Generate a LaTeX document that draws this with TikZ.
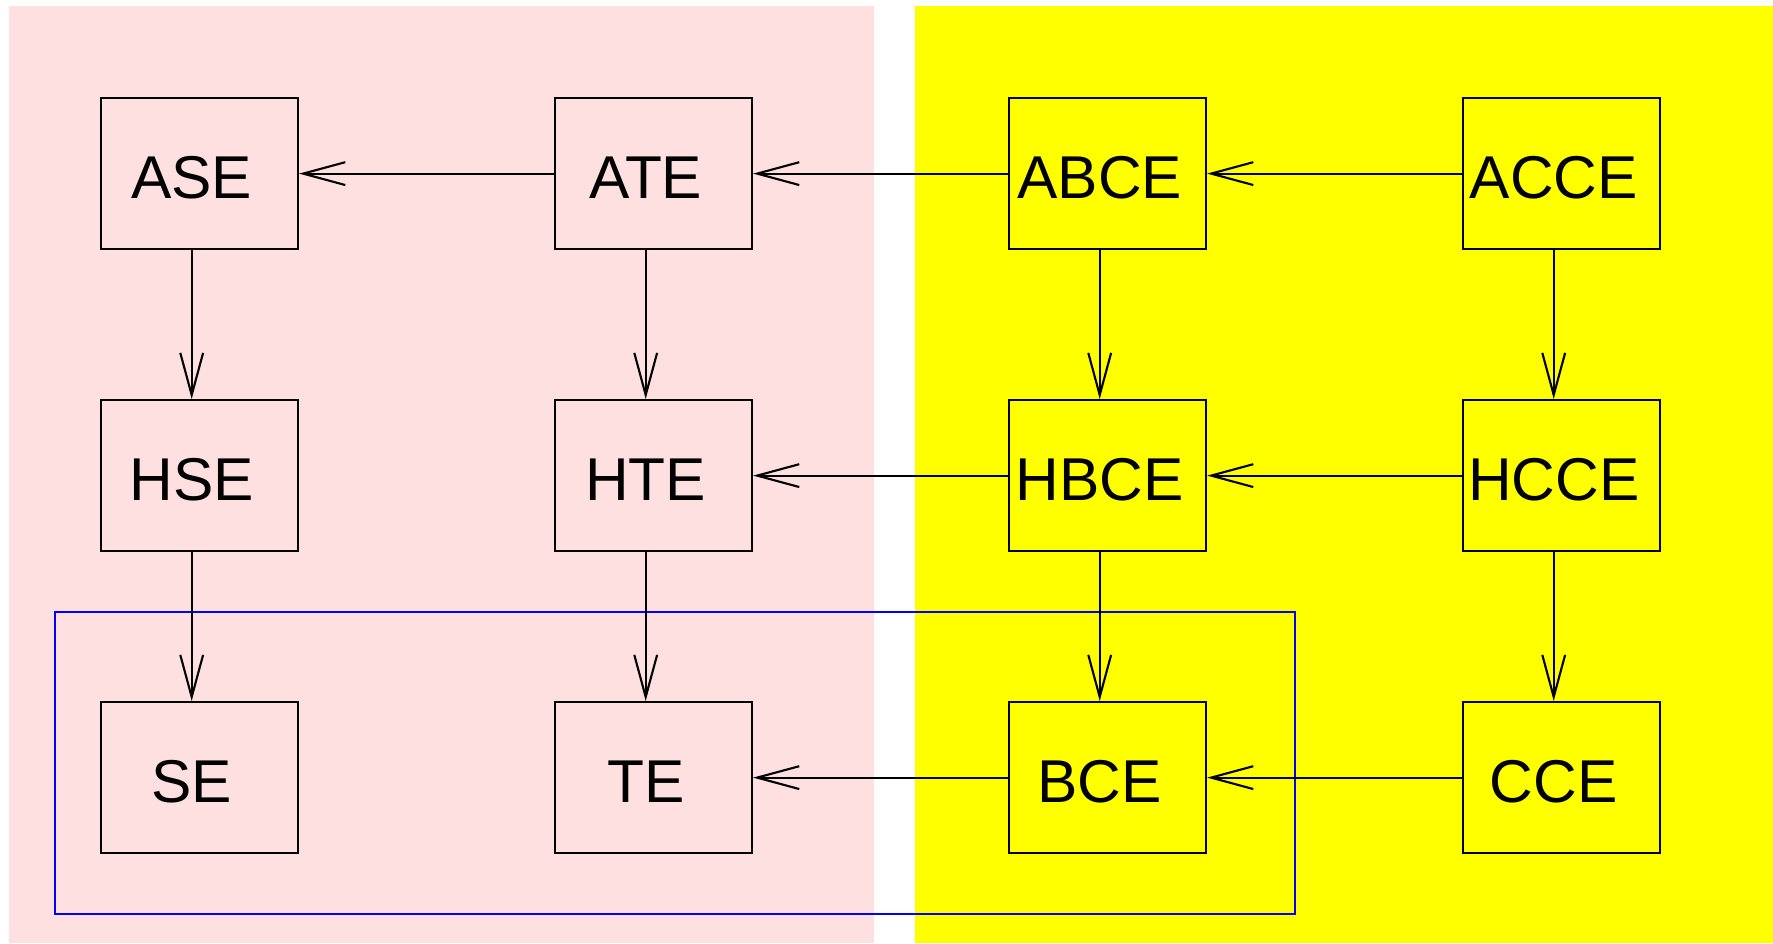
\documentclass[tikz,border=0pt]{standalone}
\usepackage{fontspec}
\setmainfont{Liberation Sans}
\usepackage{xcolor}
\usetikzlibrary{arrows.meta,positioning}
\definecolor{pinkbg}{RGB}{255,224,224}
\definecolor{yellowbg}{RGB}{255,255,0}
\definecolor{frameblue}{RGB}{0,0,255}

\begin{document}
\begin{tikzpicture}[node distance=3.02cm, auto,
    block/.style={rectangle, draw, line width=0.6pt, minimum width=1.97cm, minimum height=1.51cm, inner sep=0pt, text height=0.5cm, text depth=0pt, font=\fontsize{17.2}{21}\selectfont, execute at begin node={\hspace*{-0.156cm}}},
    arrow/.style={line width=0.6pt, -{Straight Barb[length=12pt, width=6.5pt, line width=0.6pt]}}]

    \useasboundingbox (0,0) rectangle (17.73,-9.43);
    \fill [pinkbg] (0.09,-0.057) rectangle (8.74,-9.43);
    \fill [yellowbg] (9.15,-0.057) rectangle (17.73,-9.43);
    \draw [frameblue, line width=0.6pt] (0.554,-6.117) rectangle (12.947,-9.136);

    \node [block] (ase) at (1.995,-1.736) {ASE};
    \node [block, right of=ase, node distance=4.54cm] (ate) {ATE};
    \node [block, right of=ate, node distance=4.54cm] (abce) {ABCE};
    \node [block, right of=abce, node distance=4.54cm] (acce) {ACCE};
    \node [block, below of=ase] (hse) {HSE};
    \node [block, below of=ate] (hte) {HTE};
    \node [block, below of=abce] (hbce) {HBCE};
    \node [block, below of=acce] (hcce) {HCCE};
    \node [block, below of=hse] (se) {SE};
    \node [block, below of=hte] (te) {TE};
    \node [block, below of=hbce] (bce) {BCE};
    \node [block, below of=hcce] (cce) {CCE};

    \draw [arrow] (ate) -- (ase);
    \draw [arrow] (abce) -- (ate);
    \draw [arrow] (acce) -- (abce);
    \draw [arrow] (hbce) -- (hte);
    \draw [arrow] (hcce) -- (hbce);
    \draw [arrow] (bce) -- (te);
    \draw [arrow] (cce) -- (bce);

    \draw [arrow] ([xshift=-0.078cm]ase.south) -- ([xshift=-0.078cm]hse.north);
    \draw [arrow] ([xshift=-0.078cm]ate.south) -- ([xshift=-0.078cm]hte.north);
    \draw [arrow] ([xshift=-0.078cm]abce.south) -- ([xshift=-0.078cm]hbce.north);
    \draw [arrow] ([xshift=-0.078cm]acce.south) -- ([xshift=-0.078cm]hcce.north);
    \draw [arrow] ([xshift=-0.078cm]hse.south) -- ([xshift=-0.078cm]se.north);
    \draw [arrow] ([xshift=-0.078cm]hte.south) -- ([xshift=-0.078cm]te.north);
    \draw [arrow] ([xshift=-0.078cm]hbce.south) -- ([xshift=-0.078cm]bce.north);
    \draw [arrow] ([xshift=-0.078cm]hcce.south) -- ([xshift=-0.078cm]cce.north);
\end{tikzpicture}
\end{document}
